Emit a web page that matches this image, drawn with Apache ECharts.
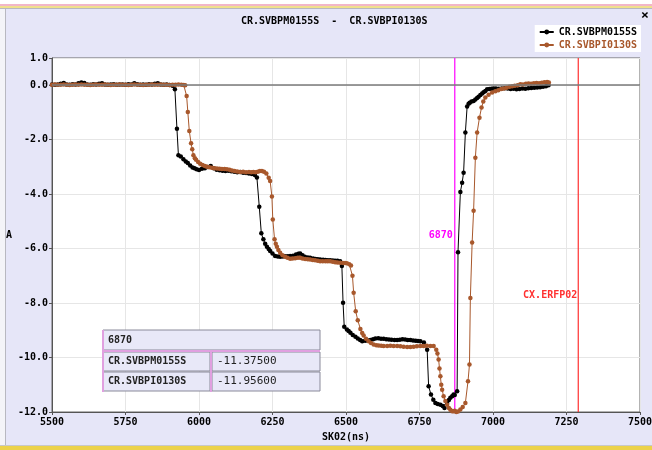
<!DOCTYPE html>
<html>
<head>
<meta charset="utf-8">
<script src="https://cdn.jsdelivr.net/npm/echarts@6/dist/echarts.min.js"></script>
<style>
html,body{margin:0;padding:0;background:#e6e6f8;}
#c{width:652px;height:450px;}
</style>
</head>
<body>
<div id="c"></div>
<script>
var titleText = 'CR.SVBPM0155S  -  CR.SVBPI0130S';
var seriesNames = ['CR.SVBPM0155S', 'CR.SVBPI0130S'];
var cursorX = 6870;
var refLineX = 7290;
var refLineName = 'CX.ERFP02';
var cursorValues = ['-11.37500', '-11.95600'];

var blackT = [5500,5510,5520,5530,5540,5550,5560,5570,5580,5590,5600,5610,5620,5630,5640,5650,5660,5670,5680,5690,5700,5710,5720,5730,5740,5750,5760,5770,5780,5790,5800,5810,5820,5830,5840,5850,5860,5870,5880,5890,5900,5910,5918,
5925,5930,5938,5947,5955,5962,5970,5978,5985,5992,6000,6010,6020,6030,6040,6050,6060,6070,6080,6090,6100,6110,6120,6130,6140,6150,6160,6170,6180,6190,6197,
6205,6212,6219,6225,6231,6237,6242,6250,6259,6268,6276,6285,6293,6302,6310,6320,6330,6338,6344,6352,6360,6370,6378,6388,6396,6404,6412,6422,6430,6438,6446,6455,6463,6471,6480,
6486,6490,6494,6503,6509,6515,6523,6532,6540,6548,6555,6565,6574,6583,6592,6600,6610,6619,6628,6637,6646,6655,6665,6674,6683,6692,6701,6710,6719,6728,6737,6745,6753,6765,
6776,6781,6789,6797,6804,6812,6821,6829,6835,6844,6850,6855,6861,6866,6870,6878,6881,6889,6895,6900,6906,6912,6917,6921,6927,6934,6940,6946,6951,6957,6963,6968,6974,6980,6988,6995,
7002,7010,7020,7030,7040,7050,7060,7070,7080,7090,7100,7110,7120,7130,7140,7150,7160,7170,7180,7189];
var blackV = [0.03,0.02,0.03,0.05,0.08,0.03,0.02,0.04,0.03,0.07,0.10,0.08,0.03,0.02,0.04,0.03,0.05,0.07,0.03,0.02,0.03,0.04,0.02,0.03,0.03,0.02,0.04,0.03,0.07,0.04,0.02,0.03,0.02,0.04,0.03,0.05,0.07,0.03,0.02,0.03,0.01,-0.02,-0.15,
-1.60,-2.57,-2.62,-2.72,-2.80,-2.86,-2.95,-3.02,-3.05,-3.09,-3.11,-3.07,-3.05,-3.00,-2.97,-3.05,-3.10,-3.12,-3.14,-3.15,-3.14,-3.16,-3.18,-3.20,-3.19,-3.21,-3.22,-3.24,-3.26,-3.30,-3.39,
-4.46,-5.44,-5.66,-5.82,-5.93,-6.01,-6.09,-6.18,-6.27,-6.29,-6.30,-6.29,-6.28,-6.28,-6.27,-6.26,-6.22,-6.19,-6.18,-6.24,-6.30,-6.33,-6.34,-6.36,-6.38,-6.39,-6.40,-6.41,-6.42,-6.43,-6.43,-6.44,-6.45,-6.45,-6.46,
-6.64,-7.99,-8.87,-8.97,-9.03,-9.09,-9.17,-9.24,-9.30,-9.36,-9.40,-9.38,-9.37,-9.36,-9.33,-9.30,-9.29,-9.31,-9.31,-9.33,-9.34,-9.35,-9.36,-9.36,-9.35,-9.33,-9.34,-9.36,-9.36,-9.37,-9.38,-9.39,-9.40,-9.45,
-9.71,-11.05,-11.36,-11.55,-11.67,-11.71,-11.73,-11.78,-11.85,-11.67,-11.56,-11.48,-11.42,-11.36,-11.375,-11.24,-6.13,-3.92,-3.58,-3.21,-1.74,-0.78,-0.68,-0.64,-0.60,-0.58,-0.52,-0.47,-0.42,-0.36,-0.30,-0.26,-0.21,-0.15,-0.14,-0.13,
-0.12,-0.12,-0.13,-0.12,-0.11,-0.12,-0.14,-0.13,-0.15,-0.14,-0.12,-0.13,-0.11,-0.10,-0.09,-0.08,-0.07,-0.06,-0.04,0.00];

var brownT = [5500,5510,5520,5530,5540,5550,5560,5570,5580,5590,5600,5610,5620,5630,5640,5650,5660,5670,5680,5690,5700,5710,5720,5730,5740,5750,5760,5770,5780,5790,5800,5810,5820,5830,5840,5850,5860,5870,5880,5890,5900,5910,5920,5930,5940,5948,
5953,5958,5962,5967,5973,5977,5981,5986,5990,5997,6004,6012,6020,6027,6035,6044,6052,6061,6070,6078,6087,6095,6104,6112,6121,6130,6140,6150,6160,6170,6178,6185,6192,6200,6207,6214,6221,6229,
6237,6242,6248,6251,6257,6261,6265,6270,6276,6284,6293,6301,6310,6318,6327,6336,6344,6352,6361,6370,6378,6387,6395,6404,6412,6421,6430,6438,6446,6455,6463,6471,6480,6490,6497,6503,6511,6517,
6522,6526,6533,6540,6549,6555,6560,6568,6577,6585,6594,6603,6611,6620,6628,6640,6651,6662,6674,6685,6696,6708,6719,6730,6741,6753,6764,6775,6787,6798,
6807,6811,6815,6818,6821,6824,6827,6832,6838,6844,6850,6855,6861,6866,6870,6875,6881,6889,6897,6906,6915,6920,6923,6929,6934,6940,6946,6954,6961,6967,6974,6985,6997,
7008,7018,7028,7037,7046,7056,7065,7074,7084,7093,7102,7112,7121,7130,7139,7148,7157,7166,7175,7184,7190];
var brownV = [0.02,0.03,0.02,0.02,0.03,0.02,0.01,0.02,0.03,0.02,0.03,0.02,0.02,0.01,0.02,0.03,0.02,0.02,0.03,0.02,0.01,0.02,0.02,0.03,0.02,0.02,0.01,0.02,0.03,0.02,0.02,0.01,0.02,0.02,0.03,0.02,0.02,0.03,0.02,0.02,0.01,0.02,0.02,0.03,0.02,0.01,
0.00,-0.40,-0.98,-1.68,-2.13,-2.35,-2.57,-2.68,-2.74,-2.82,-2.88,-2.93,-2.97,-2.99,-3.01,-3.03,-3.05,-3.06,-3.07,-3.08,-3.08,-3.09,-3.10,-3.13,-3.15,-3.17,-3.19,-3.18,-3.20,-3.19,-3.20,-3.19,-3.20,-3.18,-3.15,-3.15,-3.18,-3.24,
-3.40,-3.52,-4.09,-4.93,-5.66,-5.82,-5.93,-6.05,-6.15,-6.24,-6.30,-6.34,-6.37,-6.36,-6.35,-6.34,-6.34,-6.36,-6.38,-6.39,-6.40,-6.42,-6.43,-6.45,-6.46,-6.46,-6.46,-6.46,-6.46,-6.48,-6.50,-6.51,-6.52,-6.53,-6.53,-6.54,-6.57,-6.62,
-7.00,-7.62,-8.30,-8.63,-8.95,-9.10,-9.19,-9.31,-9.40,-9.47,-9.52,-9.55,-9.56,-9.57,-9.58,-9.58,-9.57,-9.58,-9.58,-9.59,-9.60,-9.61,-9.61,-9.60,-9.59,-9.58,-9.58,-9.57,-9.58,-9.58,
-9.71,-9.85,-10.07,-10.40,-10.69,-11.00,-11.18,-11.42,-11.60,-11.73,-11.85,-11.92,-11.97,-11.97,-11.956,-12.00,-11.98,-11.91,-11.82,-11.67,-10.87,-10.26,-7.81,-5.78,-4.61,-2.66,-1.74,-1.19,-0.82,-0.60,-0.45,-0.35,-0.27,
-0.22,-0.18,-0.14,-0.12,-0.09,-0.06,-0.04,-0.02,0.00,0.04,0.03,0.05,0.06,0.05,0.07,0.08,0.07,0.09,0.11,0.12,0.10];

var xTicks = {min: 5500, max: 7500, interval: 250};
var yTicks = {min: -12, max: 1, interval: 2};

function pairs(t, v) { return t.map(function (x, i) { return [x, v[i]]; }); }

var MONO = '"DejaVu Sans Mono", "Liberation Mono", monospace';
var BLACK = '#000000';
var BROWN = '#a8582c';
var MAGENTA = '#ff00ff';
var RED = '#ff3030';

var chart = echarts.init(document.getElementById('c'), null, {renderer: 'canvas'});

function cell(x, y, w, h, text, bold) {
  return [
    {type: 'rect', shape: {x: x, y: y, width: w, height: h}, style: {fill: '#e8e8f8', stroke: '#8a8a9a', lineWidth: 1}, z: 100},
    {type: 'text', x: x + 5, y: y + h / 2, style: {text: text, fill: '#222', font: (bold ? 'bold 10px ' : '11px ') + MONO, verticalAlign: 'middle'}, z: 101}
  ];
}

function vLineSeries(name, x, color) {
  return {
    name: name, type: 'line', showSymbol: false, symbol: 'none', silent: true, z: 2,
    data: [[x, yTicks.min], [x, yTicks.max]],
    lineStyle: {color: color, width: 1.2, type: 'solid'},
    itemStyle: {color: color}
  };
}

var graphics = [
  {type: 'rect', shape: {x: 0, y: 0, width: 652, height: 4}, style: {fill: '#ffffff'}, z: -10},
  {type: 'rect', shape: {x: 0, y: 4, width: 652, height: 2}, style: {fill: '#f2b6c8'}, z: -10},
  {type: 'rect', shape: {x: 0, y: 6, width: 652, height: 2}, style: {fill: '#f0e08c'}, z: -10},
  {type: 'rect', shape: {x: 0, y: 8, width: 652, height: 1}, style: {fill: '#b8b8c0'}, z: -10},
  {type: 'rect', shape: {x: 0, y: 9, width: 5, height: 438}, style: {fill: '#f4f4f8'}, z: -10},
  {type: 'rect', shape: {x: 5, y: 9, width: 1, height: 438}, style: {fill: '#b8b8c0'}, z: -10},
  {type: 'rect', shape: {x: 0, y: 445, width: 652, height: 1}, style: {fill: '#c8c8c8'}, z: -10},
  {type: 'rect', shape: {x: 0, y: 446, width: 652, height: 4}, style: {fill: '#ecd24a'}, z: -10},
  {type: 'text', x: 641, y: 9, style: {text: '×', fill: '#000', font: 'bold 13px ' + MONO}, z: 50}
];
graphics = graphics.concat(cell(103, 330, 217, 20, String(cursorX), true));
graphics = graphics.concat(cell(103, 352, 107, 19, seriesNames[0], true));
graphics = graphics.concat(cell(212, 352, 108, 19, cursorValues[0], false));
graphics = graphics.concat(cell(103, 372, 107, 19, seriesNames[1], true));
graphics = graphics.concat(cell(212, 372, 108, 19, cursorValues[1], false));
graphics.push({type: 'rect', shape: {x: 102, y: 330, width: 2, height: 62}, style: {fill: '#e0a0e0'}, z: 102});
graphics.push({type: 'rect', shape: {x: 103, y: 350, width: 217, height: 2}, style: {fill: '#e0a0e0'}, z: 102});
graphics.push({type: 'rect', shape: {x: 210, y: 352, width: 2, height: 40}, style: {fill: '#e0a0e0'}, z: 102});

var option = {
  animation: false,
  backgroundColor: '#e6e6f8',
  title: {
    text: titleText, left: 236, top: 11,
    textStyle: {fontFamily: MONO, fontSize: 10, fontWeight: 'bold', color: '#000'}
  },
  legend: {
    orient: 'vertical', right: 11, top: 25, backgroundColor: '#ffffff',
    padding: [2, 4, 2, 4], itemGap: 3, itemWidth: 14, itemHeight: 6,
    data: [
      {name: seriesNames[0], textStyle: {color: BLACK}},
      {name: seriesNames[1], textStyle: {color: BROWN}}
    ],
    textStyle: {fontFamily: MONO, fontSize: 10, fontWeight: 'bold', padding: [0, 0, 0, 0]}
  },
  grid: {left: 52, right: 12, top: 58, bottom: 38, show: true, backgroundColor: '#ffffff', borderColor: '#666', borderWidth: 1,
    containLabel: false, outerBoundsMode: 'none'},
  xAxis: {
    type: 'value', min: xTicks.min, max: xTicks.max, interval: xTicks.interval,
    name: 'SK02(ns)', nameLocation: 'middle', nameGap: 20,
    nameTextStyle: {fontFamily: MONO, fontSize: 10, fontWeight: 'bold', color: '#000'},
    axisLine: {show: true, onZero: false, lineStyle: {color: '#555'}},
    axisTick: {show: true, length: 3, lineStyle: {color: '#555'}},
    axisLabel: {fontFamily: MONO, fontSize: 10, fontWeight: 'bold', color: '#000', margin: 5,
      formatter: function (v) { return String(v); }},
    splitLine: {show: true, lineStyle: {color: '#e6e6e6'}}
  },
  yAxis: {
    type: 'value', min: yTicks.min, max: yTicks.max, interval: yTicks.interval,
    name: 'A', nameLocation: 'middle', nameGap: 35, nameRotate: 0,
    nameTextStyle: {fontFamily: MONO, fontSize: 10, fontWeight: 'bold', color: '#000'},
    axisLine: {show: true, lineStyle: {color: '#555'}},
    axisTick: {show: true, length: 3, lineStyle: {color: '#555'}},
    axisLabel: {fontFamily: MONO, fontSize: 10, fontWeight: 'bold', color: '#000', margin: 4,
      formatter: function (v) { return v.toFixed(1); }},
    splitLine: {show: true, lineStyle: {color: '#e6e6e6'}}
  },
  series: [
    vLineSeries('cursor', cursorX, MAGENTA),
    vLineSeries('ref', refLineX, RED),
    {
      name: seriesNames[0], type: 'line', data: pairs(blackT, blackV),
      symbol: 'circle', symbolSize: 4.5, showSymbol: true, color: BLACK,
      lineStyle: {width: 1, color: BLACK}, itemStyle: {color: BLACK}, z: 3,
      markLine: {
        silent: true, symbol: 'none', animation: false,
        label: {show: false},
        data: [{yAxis: 0, lineStyle: {color: '#7a7a7a', width: 1.5, type: 'solid'}}]
      },
      markPoint: {
        silent: true, symbol: 'circle', symbolSize: 0,
        data: [
          {coord: [cursorX, -5.5], label: {show: true, position: 'left', distance: 2, formatter: String(cursorX), color: MAGENTA, fontFamily: MONO, fontSize: 10, fontWeight: 'bold'}},
          {coord: [refLineX, -7.7], label: {show: true, position: 'left', distance: 1, formatter: refLineName, color: RED, fontFamily: MONO, fontSize: 10, fontWeight: 'bold'}}
        ]
      }
    },
    {
      name: seriesNames[1], type: 'line', data: pairs(brownT, brownV),
      symbol: 'circle', symbolSize: 4.5, showSymbol: true, color: BROWN,
      lineStyle: {width: 1, color: BROWN}, itemStyle: {color: BROWN}, z: 4
    }
  ],
  graphic: graphics
};
chart.setOption(option);
</script>
</body>
</html>
